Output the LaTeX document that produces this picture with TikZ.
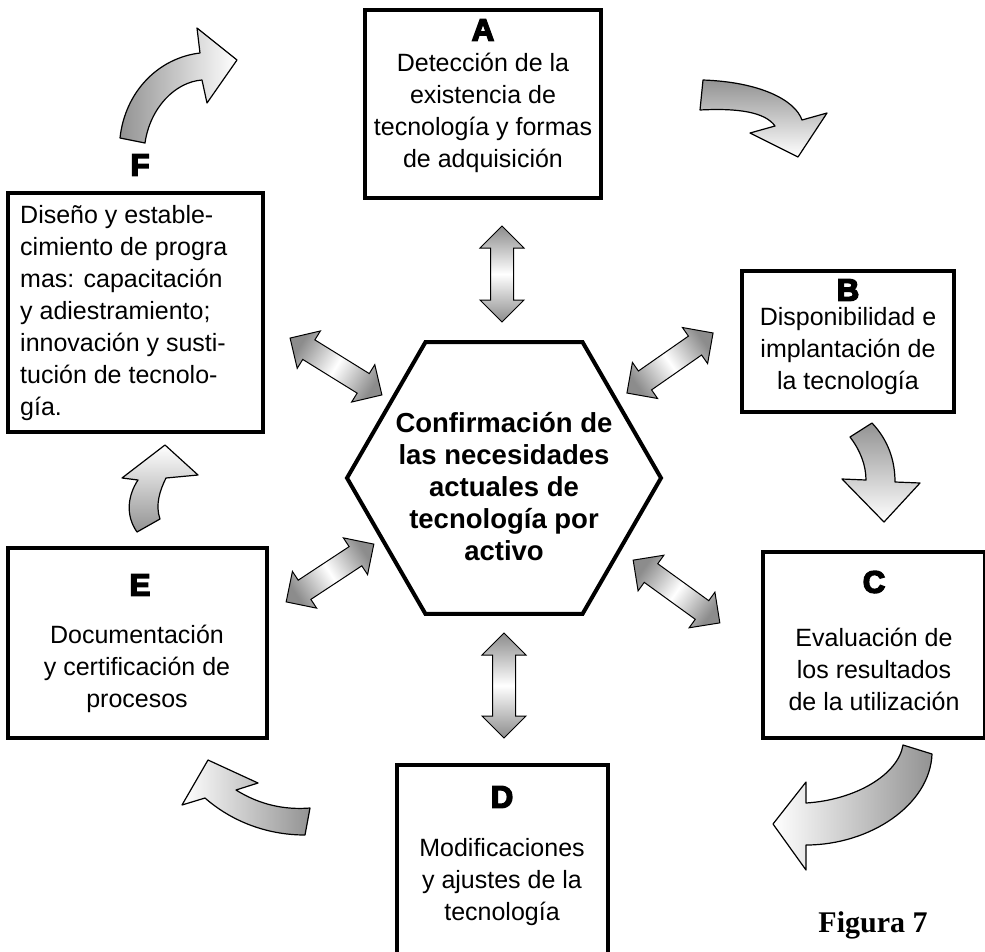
\documentclass[tikz,border=0pt]{standalone}
\usepackage{fontspec}
\setmainfont{Liberation Sans}
\newfontfamily\letterfont{Liberation Sans Bold}[FakeBold=5]
\newfontfamily\figfont{Liberation Serif}
\usetikzlibrary{calc,shapes.geometric,shapes.arrows}
\tikzset{box/.style={draw,line width=4pt,rectangle,inner sep=0},
  box text/.style={align=center,inner sep=0,font=\fontsize{25}{32}\selectfont},
  box letter/.style={inner sep=0,font=\letterfont\fontsize{31}{32}\selectfont},
  dbl arrow/.style={double arrow,draw,line width=1pt,inner xsep=0,inner ysep=11pt,minimum height=105pt,
    double arrow head extend=10.5pt,double arrow tip angle=90,
    left color=gray!90,right color=gray!90,middle color=white},
  bent arrow/.style={draw,line width=1.2pt,line join=round}}

\begin{document}
\begin{tikzpicture}[x=1pt,y=-1pt]
      \useasboundingbox (0,0) rectangle (985,951);
      \clip (0,0) rectangle (985,951);

      %hexagono central
      \node[draw,line width=4pt,regular polygon,regular polygon sides=6,minimum size=314pt,inner sep=0] (conf) at (504,478) {};
      \node[align=center,inner sep=0,font=\bfseries\fontsize{27.5}{32}\selectfont] (conf text) at (504,487)
        {Confirmación de\\las necesidades\\actuales de\\tecnología por\\activo};

      %A
      \node[box,minimum width=236pt,minimum height=188pt] (A) at (483,104) {};
      \node[box letter] (a) at (483,30) {A};
      \node[box text] (a text) at (483,113) {Detección de la\\existencia de\\tecnología y formas\\de adquisición};

      %B
      \node[box,minimum width=212pt,minimum height=141pt] (B) at (848,341.5) {};
      \node[box letter] (b) at (848,290) {B};
      \node[box text] (b text) at (848,351) {Disponibilidad e\\implantación de\\la tecnología};

      %C
      \node[box,minimum width=222pt,minimum height=186pt] (C) at (874,645) {};
      \node[box letter] (c) at (874,582) {C};
      \node[box text] (c text) at (874,669) {Evaluación de\\los resultados\\de la utilización};

      %D
      \node[box,minimum width=211pt,minimum height=195pt] (D) at (502.5,862.5) {};
      \node[box letter] (d) at (502,797) {D};
      \node[box text] (d text) at (502,882) {Modificaciones\\y ajustes de la\\tecnología};

      %E
      \node[box,minimum width=259pt,minimum height=190pt] (E) at (137.5,643) {};
      \node[box letter] (e) at (140,585) {E};
      \node[box text] (e text) at (137,669) {Documentación\\y certificación de\\procesos};

      %F
      \node[box,minimum width=255pt,minimum height=239pt] (F) at (135.5,312.5) {};
      \node[box letter] (f) at (140,165) {F};
      \node[box text,align=left,anchor=west] (f text) at (20,313) {Diseño y estable-\\cimiento de progra\\mas: capacitación\\y adiestramiento;\\innovación y susti-\\tución de tecnolo-\\gía.};

      %flechas dobles hexagono <-> cajas
      \coordinate (ah1) at (502,226); \coordinate (ah2) at (502,322);
      \coordinate (bh1) at (713,333); \coordinate (bh2) at (627,393);
      \coordinate (ch1) at (633,560); \coordinate (ch2) at (720,623);
      \coordinate (dh1) at (504,633); \coordinate (dh2) at (504,738);
      \coordinate (eh1) at (374,544); \coordinate (eh2) at (286,602);
      \coordinate (fh1) at (290,338); \coordinate (fh2) at (382,395);
      \path (ah1) -- node[dbl arrow,sloped,minimum height=96pt,shading angle=0] (AH) {} (ah2);
      \path (bh1) -- node[dbl arrow,sloped,shading angle=125] (BH) {} (bh2);
      \path (ch1) -- node[dbl arrow,sloped,minimum height=107pt,shading angle=54] (CH) {} (ch2);
      \path (dh1) -- node[dbl arrow,sloped,shading angle=0] (DH) {} (dh2);
      \path (eh1) -- node[dbl arrow,sloped,shading angle=123] (EH) {} (eh2);
      \path (fh1) -- node[dbl arrow,sloped,minimum height=108pt,shading angle=58] (FH) {} (fh2);

      %flechas curvas del ciclo
      \shade[bent arrow,left color=gray!85,right color=white] % F -> A
        (120,138) .. controls (125,92) and (158,58) .. (200,53) -- (197,28) -- (237,60) -- (207,103) -- (202,80)
        .. controls (175,82) and (150,108) .. (145,143) -- cycle;
      \shade[bent arrow,top color=gray!85,bottom color=white] % A -> B
        (703,80) .. controls (760,82) and (795,100) .. (802,120) -- (827,113) -- (798,157) -- (750,133) -- (775,126)
        .. controls (765,112) and (738,108) .. (700,110) -- cycle;
      \shade[bent arrow,top color=gray!85,bottom color=white] % B -> C
        (850,437) -- (872,423) .. controls (888,440) and (895,460) .. (895,482) -- (920,483) -- (884,522) -- (842,479) -- (866,480)
        .. controls (866,465) and (860,450) .. (850,437) -- cycle;
      \shade[bent arrow,left color=white,right color=gray!85] % C -> D
        (903,745) -- (932,754) .. controls (930,805) and (870,845) .. (806,845) -- (806,870) -- (773,824) -- (806,782) -- (806,803)
        .. controls (855,800) and (898,775) .. (903,745) -- cycle;
      \shade[bent arrow,left color=white,right color=gray!85] % D -> E
        (208,760) -- (258,783) -- (236,790) .. controls (260,805) and (285,810) .. (310,808) -- (305,835)
        .. controls (265,835) and (230,820) .. (205,798) -- (182,805) -- cycle;
      \shade[bent arrow,top color=white,bottom color=gray!85] % E -> F
        (137,532) .. controls (125,515) and (128,495) .. (138,480) -- (122,478) -- (165,445) -- (198,475) -- (166,478)
        .. controls (160,490) and (155,505) .. (160,519) -- cycle;

      \node[inner sep=0,font=\figfont\bfseries\fontsize{30}{32}\selectfont] (fig) at (873,925) {Figura 7};

    \end{tikzpicture}
\end{document}
